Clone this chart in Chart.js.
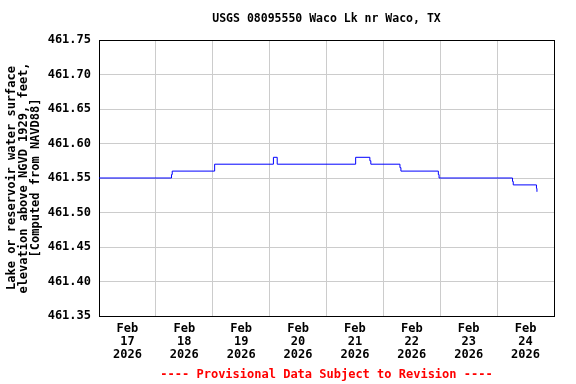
<!DOCTYPE html>
<html>
<head>
<meta charset="utf-8">
<script src="https://cdn.jsdelivr.net/npm/chart.js@4/dist/chart.umd.min.js"></script>
<style>
  html, body { margin: 0; padding: 0; background: #fff; }
  #wrap { width: 576px; height: 384px; }
</style>
</head>
<body>
<div id="wrap"><canvas id="chart" width="576" height="384"></canvas></div>
<script>
// hours since Feb 17 2026 00:00, and lake elevation (ft) at each change
const hours = [0, 30.6, 30.9, 48.8, 73.6, 75.2, 108.3, 114.3, 114.7, 127.0, 127.4, 143.2, 143.5, 174.5, 174.8, 184.6, 184.8];
const elevation = [461.55, 461.555, 461.56, 461.57, 461.58, 461.57, 461.58, 461.575, 461.57, 461.565, 461.56, 461.555, 461.55, 461.545, 461.54, 461.535, 461.53];

const dayNames = ['17', '18', '19', '20', '21', '22', '23', '24'];
const monthName = 'Feb';
const yearName = '2026';
const yTicks = [461.35, 461.40, 461.45, 461.50, 461.55, 461.60, 461.65, 461.70, 461.75];

const titleText = 'USGS 08095550 Waco Lk nr Waco, TX';
const footerText = '---- Provisional Data Subject to Revision ----';

const mono = 'DejaVu Sans Mono';
const points = hours.map((h, i) => ({ x: h, y: elevation[i] }));

// title and footer are centred over the plot area, not the canvas
const centredText = {
    id: 'centredText',
    afterDraw(chart) {
        const { ctx, chartArea } = chart;
        const cx = (chartArea.left + chartArea.right) / 2;
        ctx.save();
        ctx.textAlign = 'center';
        ctx.textBaseline = 'middle';
        ctx.font = 'bold 11.5px "' + mono + '"';
        ctx.fillStyle = '#000';
        ctx.fillText(titleText, cx, 19);
        ctx.font = 'bold 12px "' + mono + '"';
        ctx.fillStyle = '#ff0000';
        ctx.fillText(footerText, cx, 375);
        ctx.restore();
    }
};

new Chart(document.getElementById('chart'), {
    type: 'line',
    data: {
        datasets: [{
            data: points,
            stepped: true,
            borderColor: '#0000ff',
            borderWidth: 1,
            pointRadius: 0,
            fill: false
        }]
    },
    plugins: [centredText],
    options: {
        responsive: false,
        animation: false,
        layout: { padding: { left: 0, right: 22, top: 40, bottom: 0 } },
        plugins: {
            legend: { display: false },
            tooltip: { enabled: false }
        },
        scales: {
            x: {
                type: 'linear',
                min: 0,
                max: 192,
                afterFit(scale) { scale.height = 68; },
                afterBuildTicks(scale) {
                    scale.ticks = [];
                    for (let h = 0; h <= 192; h += 12) scale.ticks.push({ value: h });
                },
                ticks: {
                    autoSkip: false,
                    maxRotation: 0,
                    padding: 7,
                    color: '#000',
                    font: { family: mono, size: 12, weight: 'bold', lineHeight: 1.05 },
                    callback(v) {
                        if (v % 24 !== 12) return '';
                        const i = (v - 12) / 24;
                        return [monthName, dayNames[i], yearName];
                    }
                },
                grid: {
                    drawTicks: false,
                    lineWidth: 1,
                    color(ctx) {
                        const v = ctx.tick ? ctx.tick.value : 0;
                        if (v % 24 !== 0) return 'rgba(0,0,0,0)';
                        return v === 192 ? '#000' : '#cccccc';
                    }
                },
                border: { color: '#000', width: 1 }
            },
            y: {
                min: 461.35,
                max: 461.75,
                afterFit(scale) { scale.width = 99; },
                afterBuildTicks(scale) {
                    scale.ticks = yTicks.map(v => ({ value: v }));
                },
                ticks: {
                    padding: 8,
                    color: '#000',
                    font: { family: mono, size: 12, weight: 'bold' },
                    callback(v) { return v.toFixed(2); }
                },
                grid: {
                    drawTicks: false,
                    lineWidth: 1,
                    color(ctx) {
                        const v = ctx.tick ? ctx.tick.value : 0;
                        return Math.abs(v - 461.75) < 1e-6 ? '#000' : '#cccccc';
                    }
                },
                border: { color: '#000', width: 1 },
                title: {
                    display: true,
                    text: ['Lake or reservoir water surface', 'elevation above NGVD 1929, feet,', '[Computed from NAVD88]'],
                    color: '#000',
                    font: { family: mono, size: 12, weight: 'bold', lineHeight: 1.0 },
                    padding: { top: 6, bottom: 0 }
                }
            }
        }
    }
});
</script>
</body>
</html>
